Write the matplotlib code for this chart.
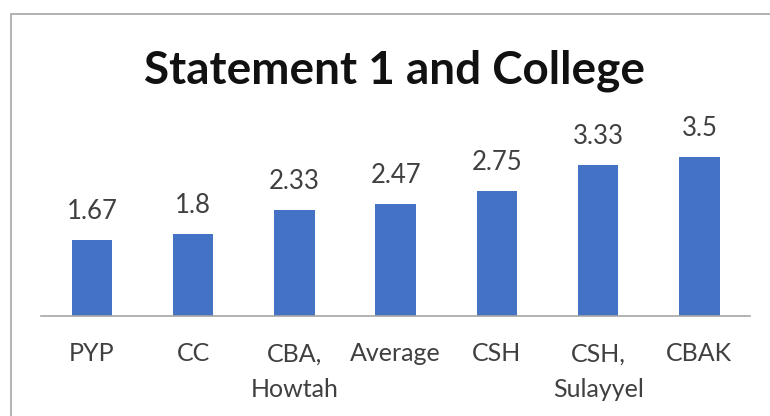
import matplotlib
matplotlib.use("Agg")
import matplotlib.pyplot as plt
from matplotlib.patches import Rectangle

colleges = ["PYP", "CC", "CBA,\nHowtah", "Average", "CSH", "CSH,\nSulayyel", "CBAK"]
scores = [1.67, 1.8, 2.33, 2.47, 2.75, 3.33, 3.5]
score_labels = ["1.67", "1.8", "2.33", "2.47", "2.75", "3.33", "3.5"]

plt.rcParams["font.family"] = ["Lato", "DejaVu Sans"]

W, H = 770, 416
fig = plt.figure(figsize=(W / 100, H / 100), dpi=100)
fig.patch.set_facecolor("white")

# chart frame (runs past the right and bottom edges)
fig.patches.append(Rectangle((11 / W, -0.2), 1.2, 1.2 - 14 / H,
                             transform=fig.transFigure, fill=False,
                             edgecolor="#a6a6a6", linewidth=1.2))

ax = fig.add_axes([41.4 / W, 100 / H, 708.6 / W, 181.6 / H])
x = list(range(len(colleges)))
ax.bar(x, scores, width=0.4, color="#4472C4")
ax.set_xlim(-0.5, len(colleges) - 0.5)
ax.set_ylim(0, 4)

for xi, v, lab in zip(x, scores, score_labels):
    ax.annotate(lab, (xi, v), xytext=(0, 15), textcoords="offset points",
                ha="center", va="baseline", fontsize=18.5, color="#404040",
                annotation_clip=False)

ax.set_xticks(x)
ax.set_xticklabels(colleges, fontsize=18, color="#404040", linespacing=1.65)
ax.tick_params(axis="x", length=0, pad=19)
ax.set_yticks([])
for side in ["top", "right", "left"]:
    ax.spines[side].set_visible(False)
ax.spines["bottom"].set_color("#a6a6a6")
ax.spines["bottom"].set_linewidth(1.2)
ax.patch.set_alpha(0)

fig.text(395 / W, 1 - 84 / H, "Statement 1 and College", ha="center",
         va="baseline", fontsize=33, fontweight="bold", color="#111111")

fig.savefig("out.png", dpi=100)
